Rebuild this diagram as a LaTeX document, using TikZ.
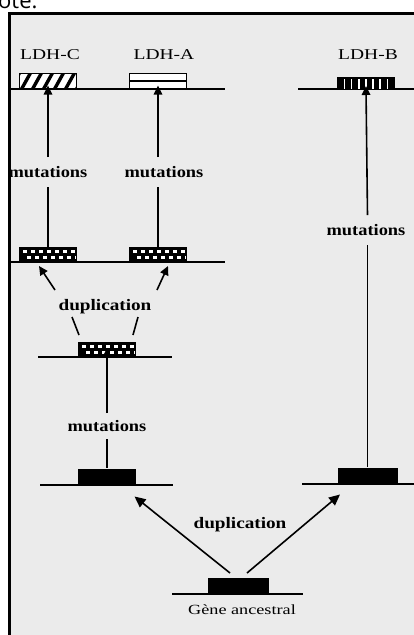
\documentclass[tikz,border=0pt]{standalone}
\usepackage{fontspec}
\setmainfont{Liberation Serif}
\newfontfamily\notefont{Open Sans}
\usepackage{graphicx}
\usetikzlibrary{arrows.meta}
\definecolor{bgc}{HTML}{EBEBEB}
\newcommand{\sx}[2]{\scalebox{#1}[1]{#2}}
\begin{document}
\begin{tikzpicture}[x=1pt,y=-1pt,
  gene/.style={draw=black, line width=1pt, minimum width=57pt, minimum height=15pt, inner sep=0pt, outer sep=0pt},
  solidgene/.style={gene, fill=black},
  checker/.style={gene, fill=black, path picture={
    \foreach \i in {0,...,6}{
      \fill[white] ([shift={(-25+8*\i,-4.5)}]path picture bounding box.center) rectangle ++(3.6,3.2);
      \fill[white] ([shift={(-21+8*\i,1.2)}]path picture bounding box.center) rectangle ++(3.6,3.2);
    }}},
  hatch/.style={gene, fill=white, line width=1.3pt, path picture={
    \foreach \i in {-3,...,3}{
      \draw[line width=3.4pt] ([shift={(\i*11-5,9)}]path picture bounding box.center) -- ++(10,-18);
    }}},
  hstripe/.style={gene, fill=white, line width=1.8pt, path picture={
    \draw[line width=2.4pt] (path picture bounding box.west) -- (path picture bounding box.east);}},
  vstripe/.style={gene, fill=black, minimum height=12pt, path picture={
    \foreach \i in {1,...,7}{
      \draw[white, line width=1.4pt] ([shift={(-28.5+\i*7.1,-4)}]path picture bounding box.center) -- ++(0,11);
    }}},
  base/.style={line width=1.3pt},
  arr/.style={line width=1.6pt, -{Triangle[length=9pt,width=8.5pt]}},
  plain/.style={line width=1.6pt},
  lab/.style={inner sep=0pt, font=\fontsize{15}{15}\selectfont},
  mut/.style={inner xsep=0pt, inner ysep=9pt, font=\bfseries\fontsize{16}{16}\selectfont},
]
\useasboundingbox (0,0) rectangle (414,635);
\fill[white] (0,0) rectangle (414,635);
\fill[bgc] (9,13) rectangle (414,635);
\node[anchor=base west, inner sep=0pt, font=\notefont\fontsize{22}{22}\selectfont] (note) at (-2,8) {ote:};

% top row
\draw[base] (9,89) -- (225,89);
\draw[base] (298,89) -- (414,89);
\node[hatch] (c1) at (48,81) {};
\node[hstripe] (a1) at (158,81) {};
\node[vstripe] (b1) at (366,83) {};
\node[lab] (lc) at (50,55) {\sx{1.3}{LDH-C}};
\node[lab] (la) at (164,55) {\sx{1.3}{LDH-A}};
\node[lab] (lb) at (368,55) {\sx{1.3}{LDH-B}};

% second row
\draw[base] (9,262) -- (225,262);
\node[checker] (c2) at (48,254.5) {};
\node[checker] (a2) at (158,254.5) {};

% third
\draw[base] (38,357) -- (172,357);
\node[checker] (d3) at (107,349.5) {};

% fourth
\draw[base] (40,485) -- (173,485);
\node[solidgene] (d4) at (107,477) {};
\draw[base] (302,484) -- (414,484);
\node[solidgene, minimum width=59pt] (b4) at (367.5,476) {};

% ancestral
\draw[base] (172,594) -- (303,594);
\node[solidgene, minimum width=60pt, minimum height=16pt] (g0) at (238,586) {};
\node[inner sep=0pt, font=\fontsize{14}{14}\selectfont] (gl) at (242,610) {\sx{1.3}{Gène ancestral}};

% mutation labels
\node[mut] (m1) at (48,172) {\sx{1.15}{mutations}};
\node[mut] (m2) at (164,172) {\sx{1.15}{mutations}};
\node[mut] (mb) at (366,230) {\sx{1.15}{mutations}};
\node[mut, inner ysep=7pt] (m3) at (107,426) {\sx{1.15}{mutations}};

\draw[plain] (c2.north) -- (c2.north |- m1.south);
\draw[arr, shorten >=-3pt] (c2.north |- m1.north) -- (c1.south);
\draw[plain] (a2.north) -- (a2.north |- m2.south);
\draw[arr, shorten >=-3pt] (a2.north |- m2.north) -- (a1.south);
\draw[plain] ([shift={(0,-2)}]b4.north) -- (b4.north |- mb.south);
\draw[arr, shorten >=-3pt] (b4.north |- mb.north) -- (b1.south);
\draw[plain] ([shift={(0,-2)}]d4.north) -- (d4.north |- m3.south);
\draw[arr, shorten >=-9pt] (d4.north |- m3.north) -- (d3.south);

% duplication (upper)
\node[inner sep=0pt, font=\bfseries\fontsize{16}{16}\selectfont] (dup1) at (105,307) {\sx{1.2}{duplication}};
\draw[arr] ([shift={(-50,-17)}]dup1.center) -- ([shift={(-9,4)}]c2.south);
\draw[arr] ([shift={(52,-17)}]dup1.center) -- ([shift={(10,4)}]a2.south);
\draw[plain] ([shift={(-33,10)}]dup1.center) -- ([shift={(-28,-7)}]d3.north);
\draw[plain] ([shift={(33,10)}]dup1.center) -- ([shift={(26,-7)}]d3.north);

% duplication (lower)
\node[inner sep=0pt, font=\bfseries\fontsize{16}{16}\selectfont] (dup2) at (240,525) {\sx{1.2}{duplication}};
\draw[arr, -{Triangle[length=11pt,width=10pt]}] ([shift={(-8,-5)}]g0.north) -- ([shift={(-1,12)}]d4.south east);
\draw[arr, -{Triangle[length=11pt,width=10pt]}] ([shift={(9,-5)}]g0.north) -- ([shift={(2,11)}]b4.south west);

% frame
\draw[line width=3pt] (9,640) -- (9,13) -- (420,13);
\end{tikzpicture}
\end{document}
